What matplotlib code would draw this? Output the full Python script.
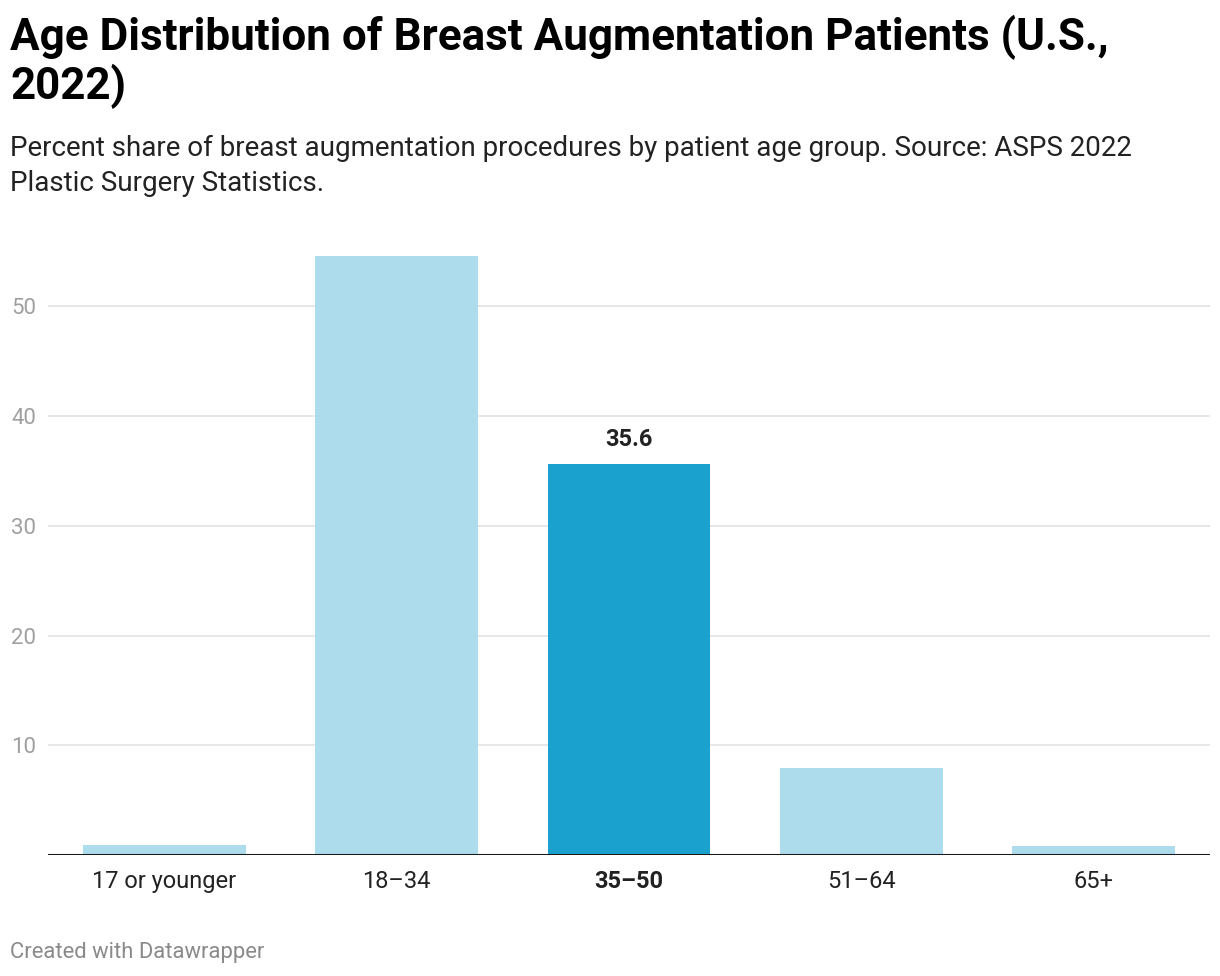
import matplotlib
matplotlib.use("Agg")
import matplotlib.pyplot as plt
import numpy as np

plt.rcParams["font.family"] = ["Roboto", "DejaVu Sans"]

categories = ["17 or younger", "18–34", "35–50", "51–64", "65+"]
values = [0.9, 54.6, 35.6, 7.9, 0.8]
highlight = "35–50"
yticks = [10, 20, 30, 40, 50]

light = "#addcec"
dark = "#1aa1ce"

W, H = 1220, 976
fig = plt.figure(figsize=(W / 100, H / 100), dpi=100)

# axes placed in pixel terms
left, right, bottom, top = 48, 1210, 855, 246
ax = fig.add_axes([left / W, (H - bottom) / H, (right - left) / W, (bottom - top) / H])

x = np.arange(len(categories))
colors = [dark if c == highlight else light for c in categories]
ax.bar(x, values, width=0.70, color=colors, zorder=2)

ax.set_xlim(-0.5, len(categories) - 0.5)
ax.set_ylim(0, 55.5)

for y in yticks:
    ax.axhline(y, color="#e5e5e5", lw=1.3, zorder=1)
ax.axhline(0, color="#1a1a1a", lw=2.2, zorder=3)

ax.set_yticks(yticks)
ax.set_yticklabels([str(t) for t in yticks])
ax.tick_params(axis="y", length=0, pad=8.5, labelsize=16, labelcolor="#a0a0a0")
ax.set_xticks(x)
ax.set_xticklabels(categories)
ax.tick_params(axis="x", length=0, pad=11, labelsize=17, labelcolor="#222222")
for lbl in ax.get_xticklabels():
    if lbl.get_text() == highlight:
        lbl.set_fontweight("bold")

for s in ax.spines.values():
    s.set_visible(False)

i = categories.index(highlight)
ax.text(x[i], values[i] + 1.2, f"{values[i]:.1f}", ha="center", va="bottom",
        fontsize=17, fontweight="bold", color="#222222")

fig.text(10 / W, 1 - 15 / H, "Age Distribution of Breast Augmentation Patients (U.S.,\n2022)",
         ha="left", va="top", fontsize=31.7, fontweight="bold", color="#000000",
         linespacing=1.1)
fig.text(10 / W, 1 - 135 / H,
         "Percent share of breast augmentation procedures by patient age group. Source: ASPS 2022\nPlastic Surgery Statistics.",
         ha="left", va="top", fontsize=20, color="#222222", linespacing=1.38)
fig.text(10 / W, 1 - 942 / H, "Created with Datawrapper", ha="left", va="top",
         fontsize=15.8, color="#8a8a8a")

fig.savefig("out.png", dpi=100)
